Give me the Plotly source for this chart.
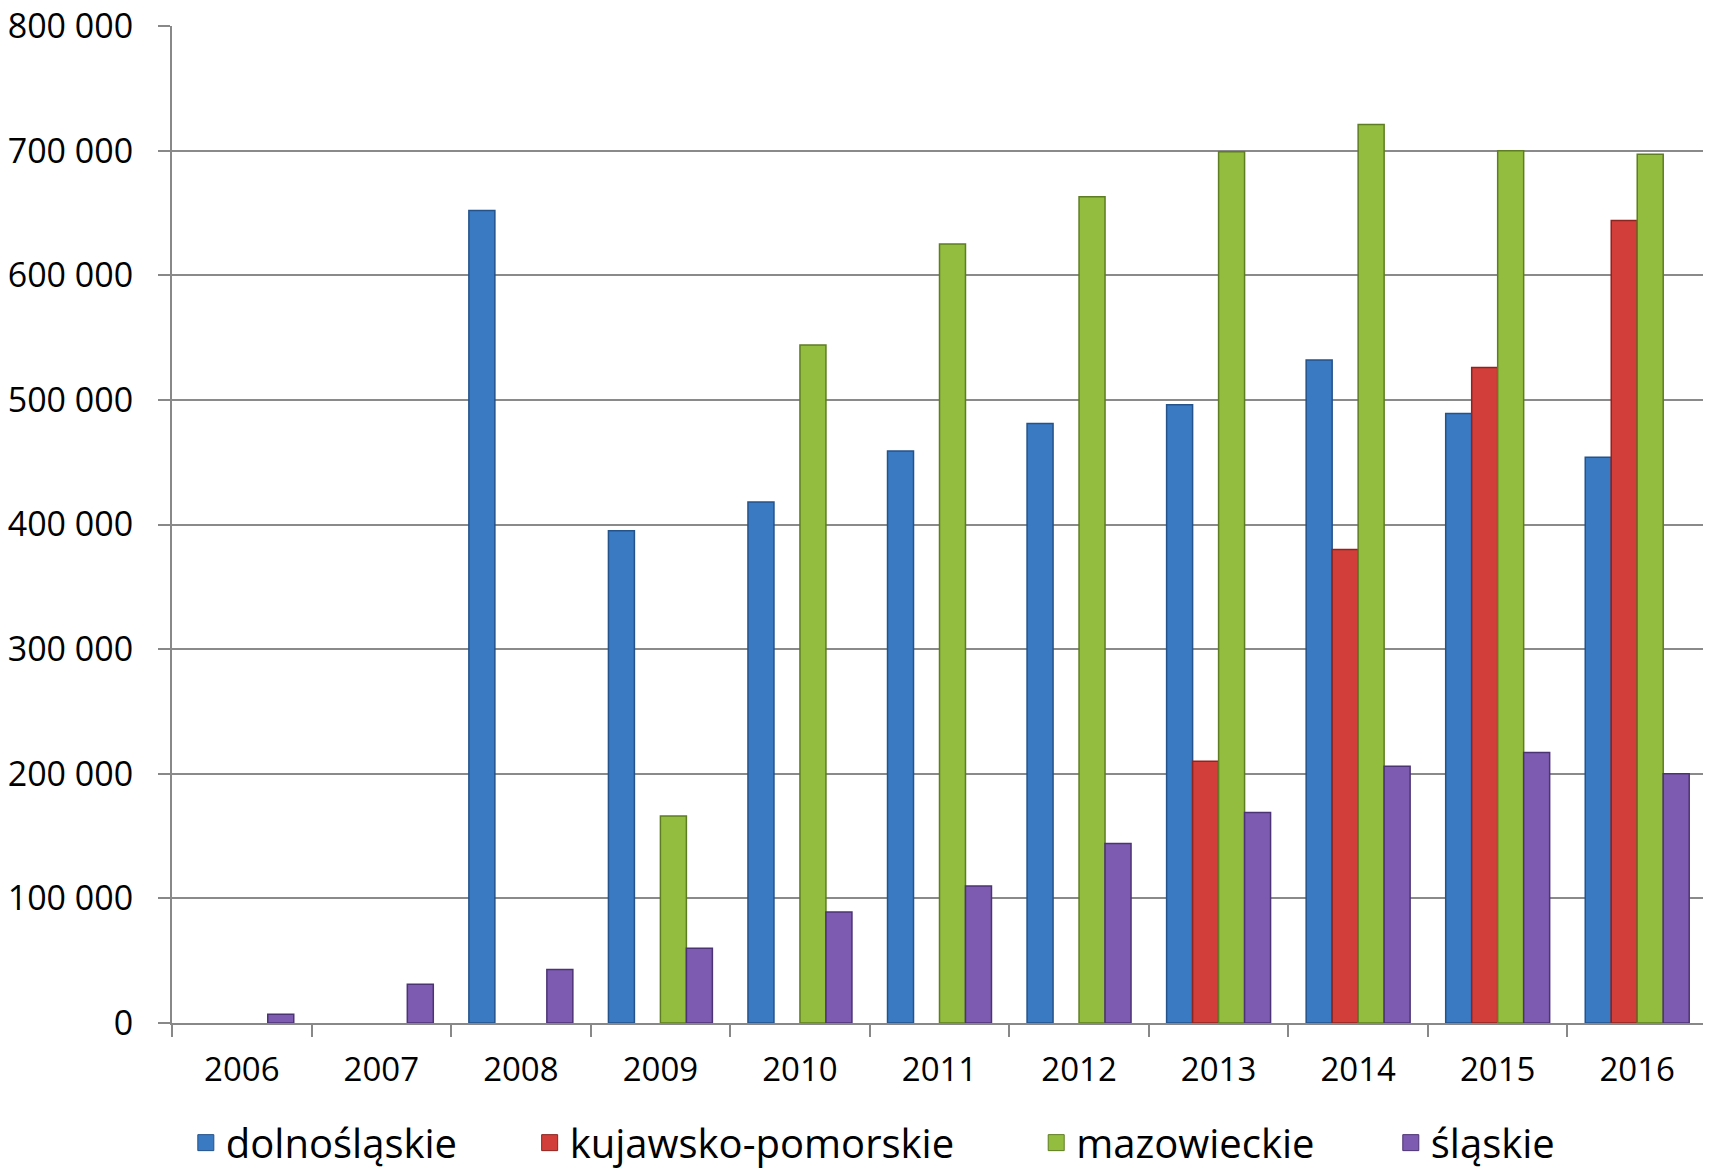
import plotly.graph_objects as go

years = ["2006", "2007", "2008", "2009", "2010", "2011", "2012", "2013", "2014", "2015", "2016"]
dolnoslaskie = [None, None, 652000, 395000, 418000, 459000, 481000, 496000, 532000, 489000, 454000]
kujawsko_pomorskie = [None, None, None, None, None, None, None, 210000, 380000, 526000, 644000]
mazowieckie = [None, None, None, 166000, 544000, 625000, 663000, 699000, 721000, 700000, 697000]
slaskie = [7000, 31000, 43000, 60000, 89000, 110000, 144000, 169000, 206000, 217000, 200000]

series_names = ["dolnośląskie", "kujawsko-pomorskie", "mazowieckie", "śląskie"]
y_tickvals = [0, 100000, 200000, 300000, 400000, 500000, 600000, 700000, 800000]
y_ticktext = ["0", "100 000", "200 000", "300 000", "400 000", "500 000", "600 000", "700 000", "800 000"]

fills = ["#3A7AC3", "#D23E39", "#92BD3F", "#7D5BB0"]
edges = ["#24528A", "#8E2420", "#5E7D22", "#4C3375"]
legend_x = [0.009, 0.233, 0.563, 0.794]

fig = go.Figure()
data = [dolnoslaskie, kujawsko_pomorskie, mazowieckie, slaskie]
for i, (name, vals) in enumerate(zip(series_names, data)):
    fig.add_trace(go.Bar(
        x=years, y=vals, name=name,
        marker=dict(color=fills[i], line=dict(color=edges[i], width=1.5)),
        showlegend=False,
    ))
    leg = "legend" if i == 0 else f"legend{i+1}"
    fig.add_trace(go.Scatter(
        x=[None], y=[None], mode="markers", name=name,
        marker=dict(symbol="square", size=16, color=fills[i], line=dict(color=edges[i], width=1)),
        legend=leg, showlegend=True,
    ))

legend_common = dict(orientation="h", yanchor="middle", y=-0.12, xanchor="left",
                     font=dict(family="Open Sans", size=40, color="#000000"),
                     bgcolor="rgba(0,0,0,0)", itemsizing="trace")
layout_legends = {}
for i in range(4):
    key = "legend" if i == 0 else f"legend{i+1}"
    layout_legends[key] = dict(legend_common, x=legend_x[i])

fig.update_layout(
    width=1703, height=1163,
    margin=dict(l=164, r=4, t=18, b=148, autoexpand=False),
    paper_bgcolor="white", plot_bgcolor="white",
    barmode="group", bargap=0.255, bargroupgap=0,
    font=dict(family="Open Sans", color="#000000"),
    **layout_legends,
)
fig.update_xaxes(
    type="category", showline=True, linecolor="#888888", linewidth=2,
    ticks="outside", tickson="boundaries", ticklen=12, tickcolor="#888888", tickwidth=2,
    showgrid=False, tickfont=dict(family="Open Sans", size=33, color="#000000"),
    ticklabelstandoff=16,
)
fig.update_yaxes(
    range=[0, 800000], tickvals=y_tickvals, ticktext=y_ticktext,
    showline=True, linecolor="#888888", linewidth=2,
    ticks="outside", ticklen=12, tickcolor="#888888", tickwidth=2,
    showgrid=True, gridcolor="#8a8a8a", gridwidth=1.5, zeroline=False,
    tickfont=dict(family="Open Sans", size=34, color="#000000"),
    ticklabelstandoff=18, ticklabeloverflow="allow",
)

fig.write_html("out.html")
